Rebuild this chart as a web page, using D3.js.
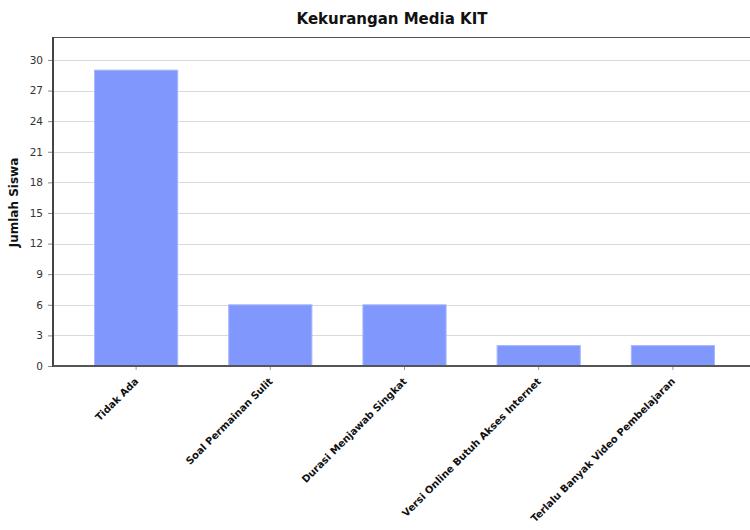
<!DOCTYPE html>
<html>
<head>
<meta charset="utf-8">
<script src="https://cdn.jsdelivr.net/npm/d3@7"></script>
<style>
  html, body { margin: 0; padding: 0; background: #fff; }
  svg { display: block; }
</style>
</head>
<body>
<svg id="chart" width="750" height="530"></svg>
<script>
// Chart data
const categories = [
  "Tidak Ada",
  "Soal Permainan Sulit",
  "Durasi Menjawab Singkat",
  "Versi Online Butuh Akses Internet",
  "Terlalu Banyak Video Pembelajaran"
];
const values = [29, 6, 6, 2, 2];
const yTicks = [0, 3, 6, 9, 12, 15, 18, 21, 24, 27, 30];
const chartTitle = "Kekurangan Media KIT";
const yTitle = "Jumlah Siswa";

const svg = d3.select("#chart");
const plot = { left: 53, right: 750, top: 37, bottom: 366 };

const x = d3.scaleBand()
  .domain(categories)
  .range([69, 740])
  .paddingInner(0.38)
  .paddingOuter(0.19);

const y = d3.scaleLinear()
  .domain([0, 32.25])
  .range([plot.bottom, plot.top]);

// Horizontal grid lines
svg.append("g")
  .selectAll("line")
  .data(yTicks.filter(d => d > 0))
  .join("line")
  .attr("x1", plot.left).attr("x2", plot.right)
  .attr("y1", d => Math.round(y(d)) + 0.5).attr("y2", d => Math.round(y(d)) + 0.5)
  .attr("stroke", "#d9d9d9").attr("stroke-width", 1);

// Top border of the plot area
svg.append("line")
  .attr("x1", plot.left).attr("x2", plot.right)
  .attr("y1", plot.top + 0.5).attr("y2", plot.top + 0.5)
  .attr("stroke", "#555").attr("stroke-width", 1);

// Bars
svg.append("g")
  .selectAll("rect")
  .data(values)
  .join("rect")
  .attr("x", (d, i) => x(categories[i]))
  .attr("width", x.bandwidth())
  .attr("y", d => y(d))
  .attr("height", d => y(0) - y(d))
  .attr("fill", "#8097fd")
  .attr("stroke", "#a9b8fb")
  .attr("stroke-width", 1);

// Y axis
const yAxis = d3.axisLeft(y)
  .tickValues(yTicks)
  .tickSize(5)
  .tickPadding(5)
  .tickFormat(d3.format("d"));
const gy = svg.append("g")
  .attr("transform", `translate(${plot.left},0)`)
  .call(yAxis);
gy.select(".domain").remove();
gy.selectAll(".tick line").attr("stroke", "#888");
gy.selectAll(".tick text")
  .attr("fill", "#333")
  .style("font-family", "Tahoma, 'DejaVu Sans', sans-serif")
  .style("font-size", "10.5px");
svg.append("line")
  .attr("x1", plot.left).attr("x2", plot.left)
  .attr("y1", plot.top).attr("y2", plot.bottom + 1)
  .attr("stroke", "#444").attr("stroke-width", 2);

// X axis
const xAxis = d3.axisBottom(x).tickSize(4).tickPadding(6);
const gx = svg.append("g")
  .attr("transform", `translate(0,${plot.bottom})`)
  .call(xAxis);
gx.select(".domain").remove();
gx.selectAll(".tick line").attr("stroke", "#999");
gx.selectAll(".tick text")
  .attr("fill", "#111")
  .style("font-family", "'DejaVu Sans', sans-serif")
  .style("font-weight", "bold")
  .style("font-size", "10px")
  .attr("text-anchor", "end")
  .attr("dy", null)
  .attr("transform", "translate(3,16) rotate(-45)")
  .attr("x", 0).attr("y", 0);
svg.append("line")
  .attr("x1", plot.left).attr("x2", plot.right)
  .attr("y1", plot.bottom).attr("y2", plot.bottom)
  .attr("stroke", "#555").attr("stroke-width", 2);

// Titles
svg.append("text")
  .attr("x", 392).attr("y", 24)
  .attr("text-anchor", "middle")
  .style("font-family", "'DejaVu Sans', sans-serif")
  .style("font-weight", "bold")
  .style("font-size", "15px")
  .attr("fill", "#111")
  .text(chartTitle);

svg.append("text")
  .attr("transform", `translate(18,${(plot.top + plot.bottom) / 2 + 1}) rotate(-90)`)
  .attr("text-anchor", "middle")
  .style("font-family", "'DejaVu Sans', sans-serif")
  .style("font-weight", "bold")
  .style("font-size", "12px")
  .attr("fill", "#111")
  .text(yTitle);
</script>
</body>
</html>
